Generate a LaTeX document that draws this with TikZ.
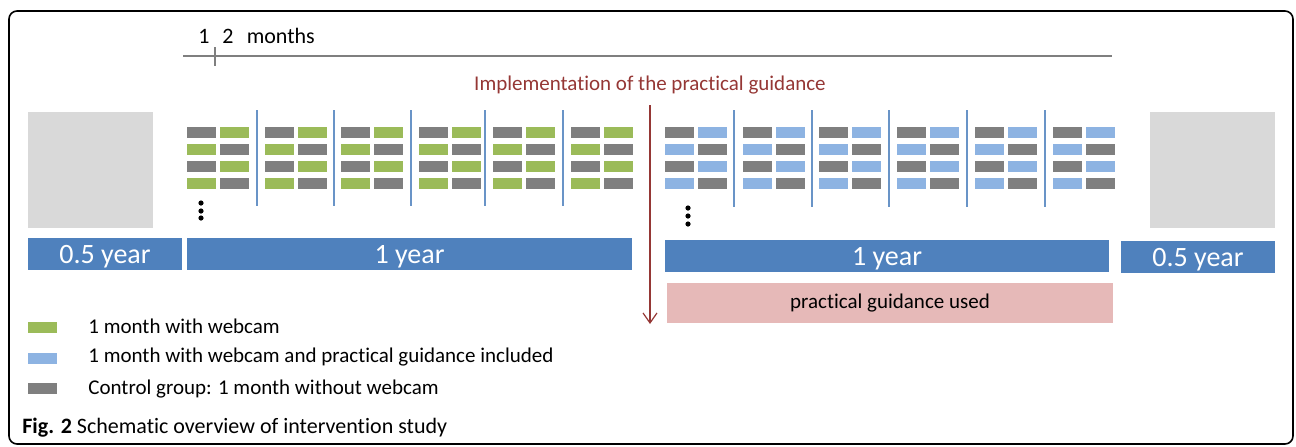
\documentclass[tikz,border=0pt]{standalone}
\usepackage{fontspec}
\setmainfont{Carlito}[Ligatures=NoCommon]
\usetikzlibrary{arrows.meta,positioning}

\definecolor{webgreen}{HTML}{9BBB59}
\definecolor{guideblue}{HTML}{8DB3E2}
\definecolor{ctrlgray}{HTML}{7F7F7F}
\definecolor{yearblue}{HTML}{4F81BD}
\definecolor{restgray}{HTML}{D9D9D9}
\definecolor{guidepink}{HTML}{E6B9B8}
\definecolor{implred}{HTML}{953735}

\begin{document}
\begin{tikzpicture}[x=0.5pt,y=-0.5pt]

		\tikzstyle{every node}=[font=\fontsize{10.5}{12}\selectfont, inner sep=0pt]
		\tikzstyle{yearbar}=[fill=yearblue, text=white, minimum height=16pt, text depth=0pt, font=\fontsize{14}{16}\selectfont]
		\tikzstyle{restbox}=[fill=restgray, minimum width=62.5pt, minimum height=58pt]
		\tikzstyle{sepline}=[yearblue!85!white, line width=0.6pt]
		\tikzstyle{timeline}=[ctrlgray, line width=1pt]

		\useasboundingbox (0,0) rectangle (1296,446);
		\draw[line width=0.8pt, rounded corners=4pt] (9,11) rectangle (1293,444);

		% time scale on top
		\coordinate (tl) at (183,56);
		\coordinate (tr) at (1112,56);
		\coordinate (tickt) at (215,47);
		\coordinate (tickb) at (215,66);
		\draw[timeline] (tl) -- (tr);
		\draw[timeline] (tickt) -- (tickb);
		\node[font=\fontsize{11}{12}\selectfont] (one) at (204,36) {1};
		\node[anchor=west, font=\fontsize{11}{12}\selectfont] (months) at (222,36) {2\hspace{0.6em}months};

		% implementation
		\node[text=implred] (impl) at (650,85) {Implementation of the practical guidance};
		\coordinate (arrtop) at (650,105);
		\coordinate (arrbot) at (650,324);
		\draw[implred, line width=0.6pt, -{Straight Barb[length=5pt, width=7pt]}] (arrtop) -- (arrbot);

		% rest periods
		\node[restbox] (restl) at (90.5,170) {};
		\node[restbox] (restr) at (1212.5,170) {};

		% months before the guidance
		\foreach \bx in {187,265,341,419,493,571}{
			\foreach \ry/\ca/\cb in {127/ctrlgray/webgreen, 144/webgreen/ctrlgray, 161/ctrlgray/webgreen, 178/webgreen/ctrlgray}{
				\fill[\ca] (\bx,\ry) rectangle ++(29,11);
				\fill[\cb] (\bx+33,\ry) rectangle ++(29,11);
			}
		}
		\foreach \sx in {257,334,411,485,563}
			\draw[sepline] (\sx,110) -- (\sx,206);

		% months with the guidance
		\foreach \bx in {665,743,819,897,975,1053}{
			\foreach \ry/\ca/\cb in {127/ctrlgray/guideblue, 144/guideblue/ctrlgray, 161/ctrlgray/guideblue, 178/guideblue/ctrlgray}{
				\fill[\ca] (\bx,\ry) rectangle ++(29,11);
				\fill[\cb] (\bx+33,\ry) rectangle ++(29,11);
			}
		}
		\foreach \sx in {734,812,889,967,1045}
			\draw[sepline] (\sx,110) -- (\sx,207);

		% dots
		\foreach \dy in {203,211,218}
			\fill (201,\dy) circle (1.3pt);
		\foreach \dy in {208,216,224}
			\fill (688,\dy) circle (1.3pt);

		% year bars
		\node[yearbar, minimum width=77pt] (halfl) at (105,254) {0.5 year};
		\node[yearbar, minimum width=222.5pt] (yearl) at (409.5,254) {1 year};
		\node[yearbar, minimum width=222pt] (yearr) at (887,256) {1 year};
		\node[yearbar, minimum width=77pt] (halfr) at (1198,257) {0.5 year};
		\node[fill=guidepink, minimum width=223pt, minimum height=20pt] (used) at (890,303) {practical guidance used};

		% legend
		\fill[webgreen] (28,322) rectangle (57,333);
		\fill[guideblue] (28,353) rectangle (57,364);
		\fill[ctrlgray] (28,383) rectangle (57,394);
		\node[anchor=west] (lgreen) at (88,326) {1 month with webcam};
		\node[anchor=west] (lblue) at (88,357) {1 month with webcam and practical guidance included};
		\node[anchor=west] (lgray) at (88,389) {Control group: 1 month without webcam};

		\node[anchor=west, font=\fontsize{11}{12}\selectfont] (caption) at (22,428) {\textbf{Fig. 2} Schematic overview of intervention study};

\end{tikzpicture}
\end{document}
